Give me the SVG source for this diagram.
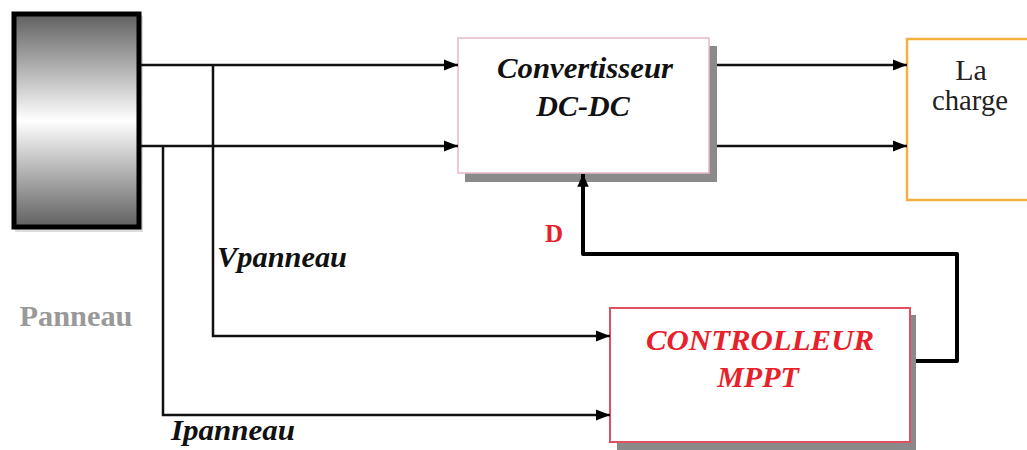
<svg xmlns="http://www.w3.org/2000/svg" width="1027" height="450" viewBox="0 0 1027 450">
<defs>
<linearGradient id="pg" x1="0" y1="0" x2="0" y2="1">
<stop offset="0" stop-color="#606060"/>
<stop offset="0.5" stop-color="#ffffff"/>
<stop offset="1" stop-color="#606060"/>
</linearGradient>
<marker id="ar" viewBox="0 0 10 10" refX="10" refY="5" markerWidth="5.6" markerHeight="5.6" orient="auto" markerUnits="strokeWidth">
<path d="M0,1 L10,5 L0,9 z" fill="#000"/>
</marker>
<marker id="ar2" viewBox="0 0 10 10" refX="10" refY="5" markerWidth="3.2" markerHeight="3.2" orient="auto" markerUnits="strokeWidth">
<path d="M0,0.5 L10,5 L0,9.5 z" fill="#000"/>
</marker>
</defs>
<style>
.ln{fill:none;stroke:#111;stroke-width:2.5}
.fb{fill:none;stroke:#000;stroke-width:4;stroke-linejoin:round}
.sh{fill:#8a8a8a}
.t{font-family:"Liberation Serif",serif;font-size:30px;text-anchor:middle}
.bi{font-family:"Liberation Serif",serif;font-weight:bold;font-style:italic;font-size:30px;text-anchor:middle}
</style>
<rect width="1027" height="450" fill="#fff"/>
<g id="panneau">
<rect x="15" y="16" width="128" height="216" fill="#bbb" opacity="0.5"/>
<rect x="14" y="14" width="125" height="213" fill="url(#pg)" stroke="#000" stroke-width="5"/>
<text x="76" y="326" font-family="Liberation Serif,serif" font-weight="bold" font-size="30" fill="#999" text-anchor="middle" textLength="113" lengthAdjust="spacingAndGlyphs">Panneau</text>
</g>
<g id="convertisseur">
<rect x="465" y="46" width="252" height="136" class="sh"/>
<rect x="458" y="38" width="251" height="135" fill="#fff" stroke="#e8b8c8" stroke-width="1.5"/>
<text x="585" y="78" class="bi" fill="#111" textLength="176" lengthAdjust="spacingAndGlyphs">Convertisseur</text>
<text x="583" y="116" class="bi" fill="#111">DC-DC</text>
</g>
<g id="charge">
<rect x="907" y="39" width="125" height="161" fill="#fff" stroke="#f5b040" stroke-width="2.5"/>
<text x="971" y="80" class="t" fill="#222">La</text>
<text x="970" y="110" class="t" fill="#222" textLength="76" lengthAdjust="spacingAndGlyphs">charge</text>
</g>
<g id="controlleur">
<rect x="617" y="315" width="299" height="135" class="sh"/>
<rect x="610" y="308" width="300" height="134" fill="#fff" stroke="#e05060" stroke-width="2"/>
<text x="760" y="350" class="bi" fill="#e8202a" textLength="228" lengthAdjust="spacingAndGlyphs">CONTROLLEUR</text>
<text x="758" y="387" class="bi" fill="#e8202a">MPPT</text>
</g>
<g id="connecteurs">
<path class="ln" d="M141,65 H458" marker-end="url(#ar)"/>
<path class="ln" d="M141,146 H458" marker-end="url(#ar)"/>
<path class="ln" d="M213,65 V336 H610" marker-end="url(#ar)"/>
<path class="ln" d="M163,146 V415 H610" marker-end="url(#ar)"/>
<path class="ln" d="M717,65 H907" marker-end="url(#ar)"/>
<path class="ln" d="M717,146 H907" marker-end="url(#ar)"/>
<path class="fb" d="M916,361 H957 V254 H583 V174" marker-end="url(#ar2)"/>
<text x="554" y="242" font-family="Liberation Serif,serif" font-weight="bold" font-size="25" fill="#e8202a" text-anchor="middle">D</text>
<text x="217" y="267" font-family="Liberation Serif,serif" font-weight="bold" font-style="italic" font-size="30" fill="#111" textLength="130" lengthAdjust="spacingAndGlyphs">Vpanneau</text>
<text x="171" y="440" font-family="Liberation Serif,serif" font-weight="bold" font-style="italic" font-size="30" fill="#111" textLength="124" lengthAdjust="spacingAndGlyphs">Ipanneau</text>
</g>
</svg>
